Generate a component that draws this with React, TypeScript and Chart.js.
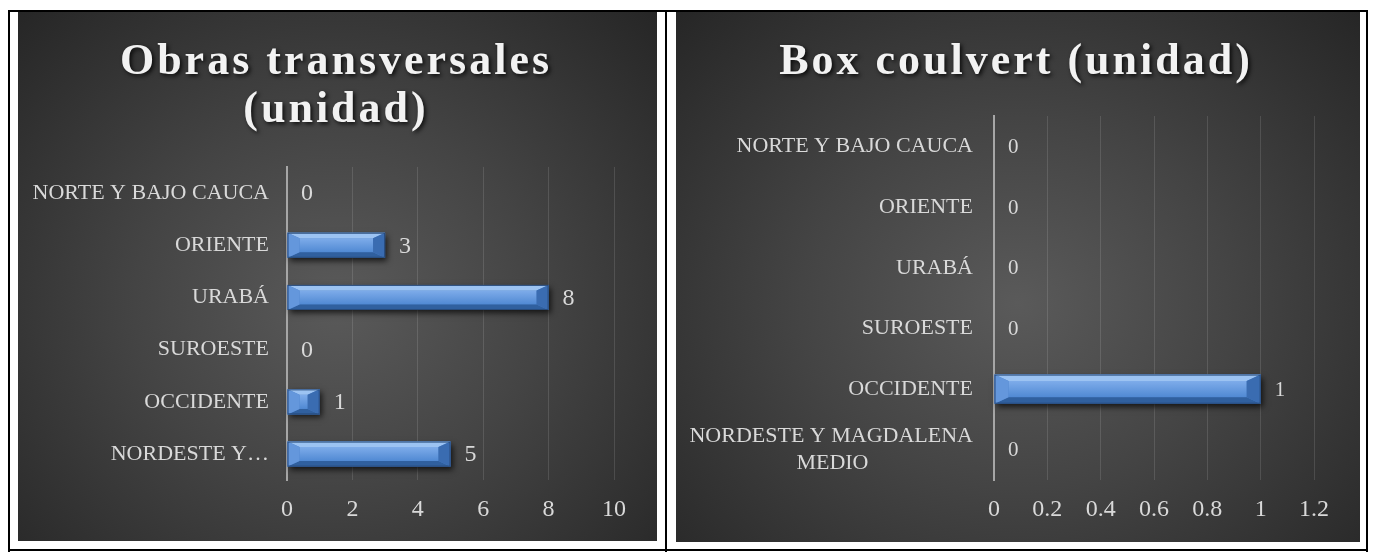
import React, { useEffect, useRef } from 'react';
import { Chart, registerables } from 'chart.js';

Chart.register(...registerables);

// ---------- data ----------
const categories = [
  'NORDESTE Y MAGDALENA MEDIO',
  'OCCIDENTE',
  'SUROESTE',
  'URABÁ',
  'ORIENTE',
  'NORTE Y BAJO CAUCA',
];
const obrasValues = [5, 1, 0, 8, 3, 0];
const boxValues = [0, 1, 0, 0, 0, 0];
const obrasTitle = ['Obras transversales', '(unidad)'];
const boxTitle = 'Box coulvert (unidad)';
const obrasAxisMax = 10;
const obrasAxisStep = 2;
const boxAxisMax = 1.2;
const boxAxisStep = 0.2;

const FONT = "'Liberation Serif', 'DejaVu Serif', serif";
const TEXT = '#d9d9d9';

type Pt = [number, number];
function poly(ctx: CanvasRenderingContext2D, pts: Pt[], fill: string | CanvasGradient) {
  ctx.beginPath();
  ctx.moveTo(pts[0][0], pts[0][1]);
  for (let i = 1; i < pts.length; i++) ctx.lineTo(pts[i][0], pts[i][1]);
  ctx.closePath();
  ctx.fillStyle = fill;
  ctx.fill();
}

const bevelBars = {
  id: 'bevelBars',
  afterDatasetsDraw(chart: any) {
    const ctx: CanvasRenderingContext2D = chart.ctx;
    const meta = chart.getDatasetMeta(0);
    meta.data.forEach((el: any) => {
      const { x, y, base, height } = el.getProps(['x', 'y', 'base', 'height'], true);
      const x0 = Math.min(x, base);
      const x1 = Math.max(x, base);
      const w = x1 - x0;
      if (w < 1) return;
      const h = height;
      const yT = y - h / 2;
      const yB = y + h / 2;
      const bv = h * 0.22;
      const bh = Math.min(h * 0.48, w / 2);
      ctx.save();
      ctx.shadowColor = 'rgba(0,0,0,0.7)';
      ctx.shadowBlur = 6;
      ctx.shadowOffsetX = 2;
      ctx.shadowOffsetY = 3;
      ctx.fillStyle = '#4a7fc6';
      ctx.fillRect(x0, yT, w, h);
      ctx.shadowColor = 'transparent';
      ctx.shadowBlur = 0;
      ctx.shadowOffsetX = 0;
      ctx.shadowOffsetY = 0;
      const g = ctx.createLinearGradient(0, yT + bv, 0, yB - bv);
      g.addColorStop(0, '#7eacea');
      g.addColorStop(1, '#5089d3');
      poly(ctx, [[x0 + bh, yT + bv], [x1 - bh, yT + bv], [x1 - bh, yB - bv], [x0 + bh, yB - bv]], g);
      poly(ctx, [[x0, yT], [x1, yT], [x1 - bh, yT + bv], [x0 + bh, yT + bv]], '#9cc3f2');
      poly(ctx, [[x0, yB], [x1, yB], [x1 - bh, yB - bv], [x0 + bh, yB - bv]], '#30609f');
      poly(ctx, [[x0, yT], [x0 + bh, yT + bv], [x0 + bh, yB - bv], [x0, yB]], '#6497dc');
      poly(ctx, [[x1, yT], [x1 - bh, yT + bv], [x1 - bh, yB - bv], [x1, yB]], '#3a6cb1');
      ctx.strokeStyle = '#284b7c';
      ctx.lineWidth = 1;
      ctx.strokeRect(x0 + 0.5, yT + 0.5, w - 1, h - 1);
      ctx.restore();
    });
  },
};

const valueLabels = {
  id: 'valueLabels',
  afterDatasetsDraw(chart: any, _args: any, opts: any) {
    const ctx: CanvasRenderingContext2D = chart.ctx;
    const ds = chart.data.datasets[0];
    const meta = chart.getDatasetMeta(0);
    ctx.save();
    ctx.font = `${opts.size}px ${FONT}`;
    ctx.fillStyle = TEXT;
    ctx.textAlign = 'left';
    ctx.textBaseline = 'middle';
    meta.data.forEach((el: any, i: number) => {
      const { x, y } = el.getProps(['x', 'y'], true);
      ctx.fillText(String(ds.data[i]), x + opts.offset, y + 1);
    });
    ctx.restore();
  },
};

const titleStyle = {
  id: 'titleStyle',
  beforeDraw(chart: any, _args: any, opts: any) {
    const tb = chart.titleBlock;
    if (tb && !tb.__styled) {
      const orig = tb.draw.bind(tb);
      tb.draw = (area: any) => {
        const ctx: any = chart.ctx;
        ctx.save();
        ctx.letterSpacing = opts.spacing || '3px';
        ctx.shadowColor = 'rgba(0,0,0,0.8)';
        ctx.shadowBlur = 4;
        ctx.shadowOffsetX = 2;
        ctx.shadowOffsetY = 2;
        ctx.translate(opts.dx || 0, 0);
        orig(area);
        ctx.restore();
      };
      tb.__styled = true;
    }
  },
};

const fmtTick = (v: any) => String(Number(Number(v).toFixed(1)));

interface PanelProps {
  width: number;
  height: number;
  title: string | string[];
  titleDx: number;
  titlePadBottom: number;
  values: number[];
  axisMax: number;
  axisStep: number;
  axisWidth: number;
  padRight: number;
  padBottom: number;
  labelPad: number;
  valueSize: number;
  labelFn: (i: number) => string | string[];
}

function Panel(p: PanelProps) {
  const ref = useRef<HTMLCanvasElement>(null);
  useEffect(() => {
    const chart = new Chart(ref.current as HTMLCanvasElement, {
      type: 'bar',
      data: {
        labels: categories,
        datasets: [
          {
            data: p.values,
            backgroundColor: '#4f86d0',
            borderWidth: 0,
            categoryPercentage: 1,
            barPercentage: 0.48,
          },
        ],
      },
      plugins: [titleStyle, bevelBars, valueLabels],
      options: {
        indexAxis: 'y',
        animation: false,
        responsive: false,
        devicePixelRatio: 1,
        layout: { padding: { left: 0, right: p.padRight, top: 0, bottom: p.padBottom } },
        plugins: {
          legend: { display: false },
          tooltip: { enabled: false },
          title: {
            display: true,
            text: p.title,
            color: '#f2f2f2',
            font: { family: FONT, size: 44, weight: 'bold', lineHeight: 1.09 },
            padding: { top: 27, bottom: p.titlePadBottom },
          },
          valueLabels: { size: p.valueSize, offset: 14 },
          titleStyle: { spacing: '3px', dx: p.titleDx },
        } as any,
        scales: {
          x: {
            min: 0,
            max: p.axisMax,
            ticks: {
              stepSize: p.axisStep,
              color: TEXT,
              font: { family: FONT, size: 24 },
              padding: 15,
              callback: fmtTick,
            },
            grid: {
              color: (c: any) => (c.tick && c.tick.value === 0 ? 'rgba(0,0,0,0)' : 'rgba(255,255,255,0.12)'),
              drawTicks: false,
            },
            border: { display: false },
          },
          y: {
            reverse: true,
            ticks: {
              color: TEXT,
              font: { family: FONT, size: 22 },
              padding: p.labelPad,
              autoSkip: false,
              callback: (_v: any, i: number) => p.labelFn(i),
            },
            grid: { display: false, drawTicks: false },
            border: { display: true, color: '#a6a6a6', width: 2 },
            afterFit: (s: any) => {
              s.width = p.axisWidth;
            },
          },
        },
      } as any,
    });
    return () => chart.destroy();
  }, []);
  return <canvas ref={ref} width={p.width} height={p.height} style={{ display: 'block', width: p.width, height: p.height }} />;
}

const bg = 'radial-gradient(ellipse farthest-corner at 50% 55%, #5a5a5a 0%, #444444 45%, #262626 100%)';

const line = (x: number, y: number, w: number, h: number) => (
  <div style={{ position: 'absolute', left: x, top: y, width: w, height: h, background: '#000' }} />
);

export default function App() {
  const nbsp = '\u00A0'.repeat(19);
  return (
    <div style={{ position: 'absolute', left: 0, top: 0, width: 1373, height: 552, background: '#fff' }}>
      {line(8, 10, 1360, 2)}
      {line(8, 10, 2, 542)}
      {line(665, 10, 2, 542)}
      {line(1366, 10, 2, 542)}
      {line(8, 549, 1360, 2)}
      <div style={{ position: 'absolute', left: 18, top: 12, width: 639, height: 529, background: bg }}>
        <Panel
          width={639}
          height={529}
          title={obrasTitle}
          titleDx={20}
          titlePadBottom={32}
          values={obrasValues}
          axisMax={obrasAxisMax}
          axisStep={obrasAxisStep}
          axisWidth={269}
          padRight={43}
          padBottom={2}
          labelPad={18}
          valueSize={24}
          labelFn={(i) => (i === 0 ? 'NORDESTE Y…' : categories[i])}
        />
      </div>
      <div style={{ position: 'absolute', left: 676, top: 12, width: 684, height: 530, background: bg }}>
        <Panel
          width={684}
          height={530}
          title={boxTitle}
          titleDx={21}
          titlePadBottom={29}
          values={boxValues}
          axisMax={boxAxisMax}
          axisStep={boxAxisStep}
          axisWidth={318}
          padRight={46}
          padBottom={3}
          labelPad={21}
          valueSize={21}
          labelFn={(i) => (i === 0 ? ['NORDESTE Y MAGDALENA', 'MEDIO' + nbsp] : categories[i])}
        />
      </div>
    </div>
  );
}
